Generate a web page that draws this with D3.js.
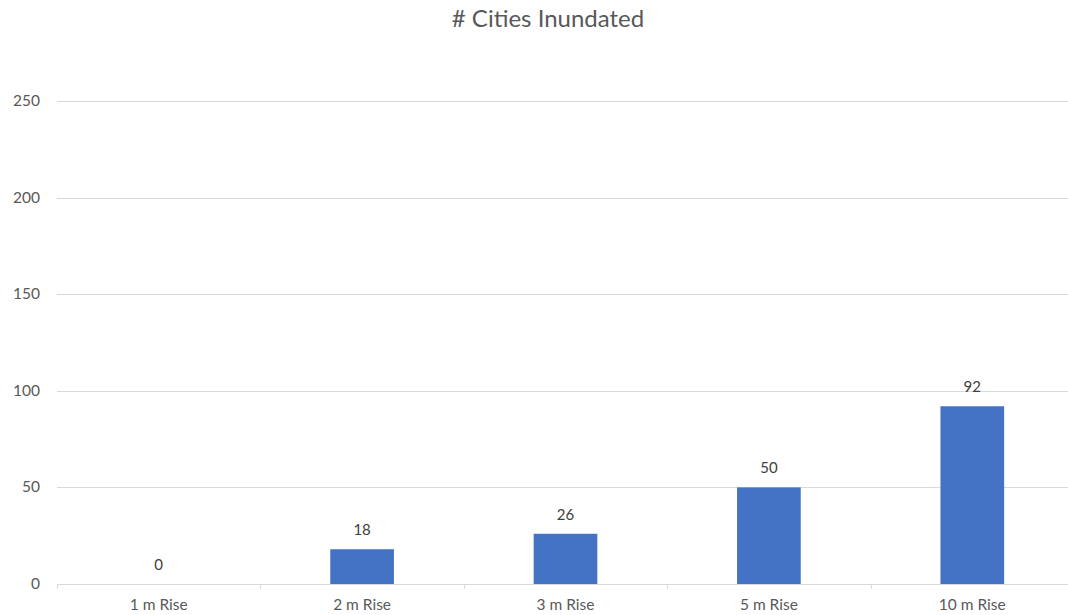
<!DOCTYPE html>
<html>
<head>
<meta charset="utf-8">
<script src="https://cdn.jsdelivr.net/npm/d3@7"></script>
<style>
  html, body { margin: 0; padding: 0; background: #fff; }
  svg { display: block; font-family: Lato, "Open Sans", sans-serif; }
</style>
</head>
<body>
<svg id="chart" width="1068" height="615"></svg>
<script>
const categories = ["1 m Rise", "2 m Rise", "3 m Rise", "5 m Rise", "10 m Rise"];
const cities = [0, 18, 26, 50, 92];
const yTicks = [0, 50, 100, 150, 200, 250];
const title = "# Cities Inundated";

const svg = d3.select("#chart");
const plotLeft = 57, plotRight = 1074, plotTop = 101, plotBottom = 584;

const x = d3.scaleBand().domain(categories).range([plotLeft, plotRight]).padding(0);
const y = d3.scaleLinear().domain([0, 250]).range([plotBottom, plotTop]);
const barW = x.bandwidth() * 0.313;

// title
svg.append("text")
  .attr("x", 548).attr("y", 27)
  .attr("text-anchor", "middle")
  .attr("font-size", 24).attr("fill", "#595959")
  .text(title);

// horizontal gridlines
svg.append("g").selectAll("line")
  .data(yTicks.filter(d => d !== 0))
  .join("line")
  .attr("x1", plotLeft).attr("x2", plotRight)
  .attr("y1", d => Math.round(y(d)) + 0.5).attr("y2", d => Math.round(y(d)) + 0.5)
  .attr("stroke", "#d9d9d9").attr("stroke-width", 1);

// y tick labels
svg.append("g").selectAll("text")
  .data(yTicks)
  .join("text")
  .attr("x", 40).attr("y", d => y(d) + 5)
  .attr("text-anchor", "end")
  .attr("font-size", 15.5).attr("fill", "#595959")
  .text(d => d);

// bars
svg.append("g").selectAll("rect")
  .data(cities)
  .join("rect")
  .attr("x", (d, i) => x(categories[i]) + (x.bandwidth() - barW) / 2)
  .attr("width", barW)
  .attr("y", d => y(d))
  .attr("height", d => plotBottom - y(d))
  .attr("fill", "#4472c4");

// x axis line with category boundary ticks
svg.append("line")
  .attr("x1", plotLeft).attr("x2", plotRight)
  .attr("y1", plotBottom + 0.5).attr("y2", plotBottom + 0.5)
  .attr("stroke", "#d9d9d9");
svg.append("g").selectAll("line")
  .data(categories)
  .join("line")
  .attr("x1", d => Math.round(x(d)) + 0.5).attr("x2", d => Math.round(x(d)) + 0.5)
  .attr("y1", plotBottom).attr("y2", plotBottom + 5)
  .attr("stroke", "#d9d9d9");

// category labels
svg.append("g").selectAll("text")
  .data(categories)
  .join("text")
  .attr("x", d => x(d) + x.bandwidth() / 2)
  .attr("y", 610)
  .attr("text-anchor", "middle")
  .attr("font-size", 15.5).attr("fill", "#595959")
  .text(d => d);

// value labels
svg.append("g").selectAll("text")
  .data(cities)
  .join("text")
  .attr("x", (d, i) => x(categories[i]) + x.bandwidth() / 2)
  .attr("y", d => y(d) - 14)
  .attr("text-anchor", "middle")
  .attr("font-size", 15).attr("fill", "#404040")
  .text(d => d);
</script>
</body>
</html>
